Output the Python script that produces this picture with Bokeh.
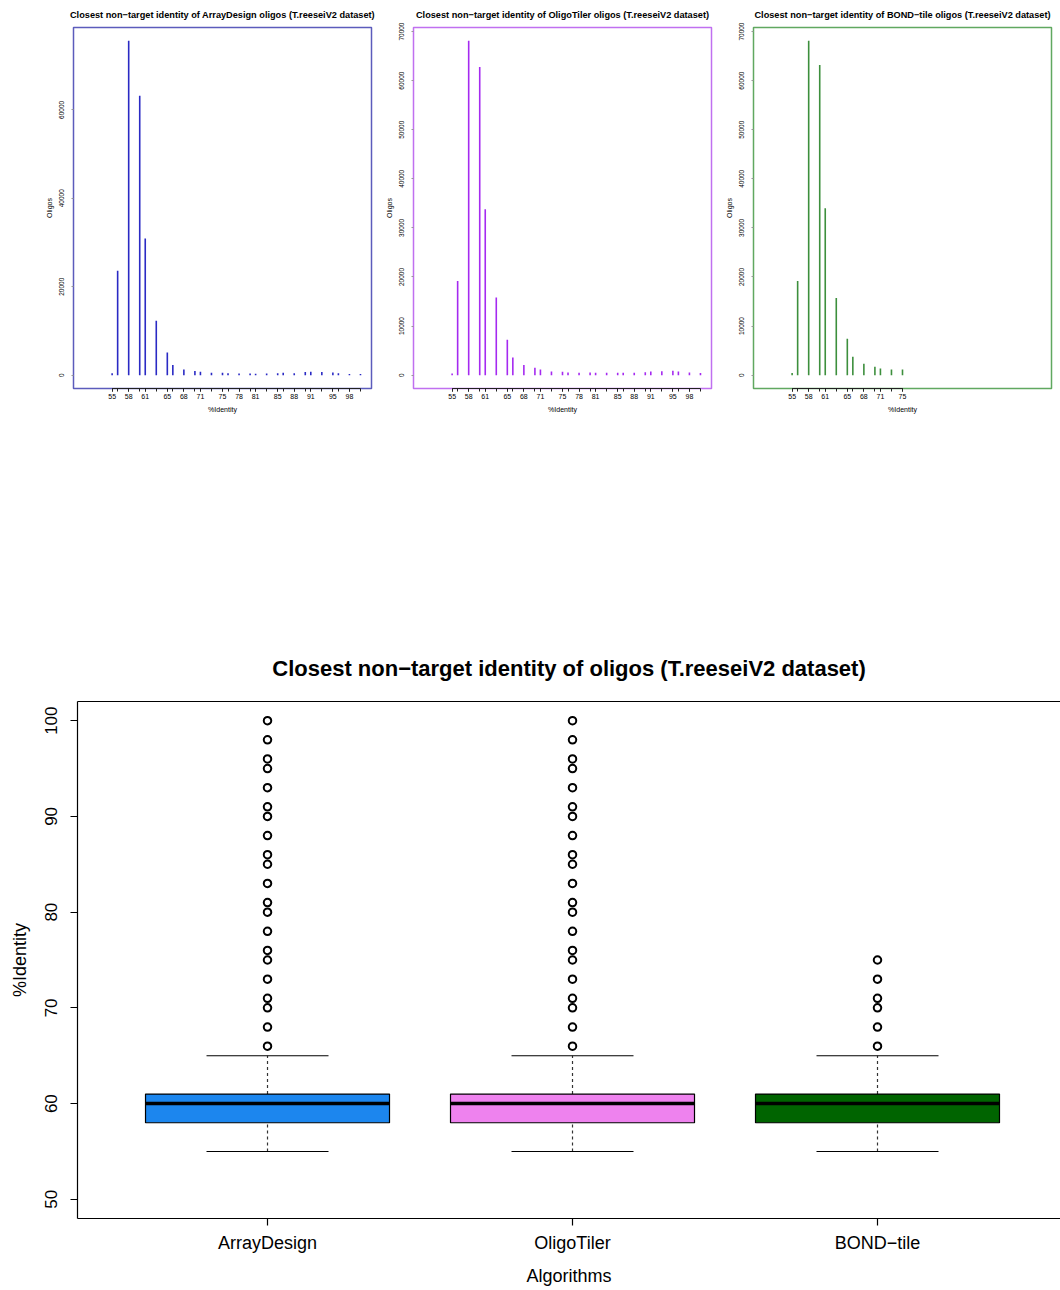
from bokeh.plotting import figure
from bokeh.layouts import column, row, Spacer
from bokeh.models import FixedTicker, LinearAxis, Range1d
from bokeh.embed import file_html
from bokeh.resources import INLINE

FONT = "Liberation Sans"

# ---------------- data ----------------
identity_full = [55, 56, 58, 60, 61, 63, 65, 66, 68, 70, 71, 73, 75, 76, 78, 80, 81,
                 83, 85, 86, 88, 90, 91, 93, 95, 96, 98, 100]
arraydesign_counts = [400, 23600, 75600, 63200, 30900, 12300, 5100, 2300, 1300, 950, 750,
                      530, 520, 450, 380, 380, 300, 380, 450, 520, 450, 680, 750, 680,
                      600, 450, 230, 230]
oligotiler_counts = [340, 19200, 68100, 62800, 33800, 15800, 7200, 3600, 2050, 1500, 1150,
                     750, 680, 540, 480, 540, 480, 480, 480, 480, 480, 610, 750, 810,
                     880, 750, 540, 410]
identity_bond = [55, 56, 58, 60, 61, 63, 65, 66, 68, 70, 71, 73, 75]
bondtile_counts = [410, 19200, 68100, 63200, 34000, 15700, 7400, 3730, 2310, 1700, 1360,
                   1150, 1150]
label_full = [55, 58, 61, 65, 68, 71, 75, 78, 81, 85, 88, 91, 95, 98]
label_bond = [55, 58, 61, 65, 68, 71, 75]

algorithms = ["ArrayDesign", "OligoTiler", "BOND\u2212tile"]
box_colors = ["#1C86EE", "#EE82EE", "#006400"]
q1 = [58, 58, 58]
median = [60, 60, 60]
q3 = [61, 61, 61]
whisker_low = [55, 55, 55]
whisker_high = [65, 65, 65]
outliers_arraydesign = [66, 68, 70, 71, 73, 75, 76, 78, 80, 81, 83, 85, 86, 88, 90, 91,
                        93, 95, 96, 98, 100]
outliers_oligotiler = [66, 68, 70, 71, 73, 75, 76, 78, 80, 81, 83, 85, 86, 88, 90, 91,
                       93, 95, 96, 98, 100]
outliers_bondtile = [66, 68, 70, 71, 73, 75]


def histogram_panel(name, xs, counts, labels, bar_color, frame_color, ymax, yticks):
    p = figure(frame_width=298, frame_height=361, output_backend="svg",
               toolbar_location=None, x_range=Range1d(48, 102),
               y_range=Range1d(-ymax * 0.04, ymax * 1.04),
               min_border_left=34, min_border_right=8, min_border_top=26,
               min_border_bottom=32)
    p.title.text = "Closest non\u2212target identity of %s oligos (T.reeseiV2 dataset)" % name
    p.title.text_font = FONT
    p.title.text_font_size = "9.2px"
    p.title.text_font_style = "bold"
    p.title.text_color = "black"
    p.title.align = "center"
    p.title.standoff = 15
    p.grid.visible = False
    p.outline_line_color = frame_color
    p.outline_line_width = 1.5
    p.background_fill_color = "white"
    p.border_fill_color = "white"
    p.segment(x0=xs, y0=[0] * len(xs), x1=xs, y1=counts, line_color=bar_color,
              line_width=1.6)
    xa = p.xaxis[0]
    xa.ticker = FixedTicker(ticks=labels, minor_ticks=xs)
    xa.bounds = (min(xs), max(xs))
    xa.axis_line_color = "#222222"
    xa.axis_line_width = 1.2
    xa.major_tick_in = 0
    xa.major_tick_out = 3
    xa.minor_tick_in = 0
    xa.minor_tick_out = 3
    xa.minor_tick_line_color = "#222222"
    xa.major_label_text_font = FONT
    xa.major_label_text_font_size = "7px"
    xa.major_label_text_color = "black"
    xa.major_label_standoff = 2
    xa.axis_label = "%Identity"
    xa.axis_label_text_font = FONT
    xa.axis_label_text_font_size = "7px"
    xa.axis_label_text_font_style = "normal"
    xa.axis_label_text_color = "black"
    xa.axis_label_standoff = 4
    ya = p.yaxis[0]
    ya.ticker = FixedTicker(ticks=yticks)
    ya.axis_line_color = None
    ya.major_tick_in = 0
    ya.major_tick_out = 2
    ya.major_tick_line_color = "#999999"
    ya.minor_tick_line_color = None
    ya.major_label_orientation = "vertical"
    ya.major_label_text_font = FONT
    ya.major_label_text_font_size = "6.5px"
    ya.major_label_text_color = "black"
    ya.major_label_standoff = 7
    ya.axis_label = "Oligos"
    ya.axis_label_text_font = FONT
    ya.axis_label_text_font_size = "7px"
    ya.axis_label_text_font_style = "normal"
    ya.axis_label_text_color = "black"
    ya.axis_label_standoff = 4
    return p


h1 = histogram_panel("ArrayDesign", identity_full, arraydesign_counts, label_full,
                     "#2a2ac4", "#5c5cbc", max(arraydesign_counts), [0, 20000, 40000, 60000])
h2 = histogram_panel("OligoTiler", identity_full, oligotiler_counts, label_full,
                     "#a52af0", "#c070f0", max(oligotiler_counts),
                     [0, 10000, 20000, 30000, 40000, 50000, 60000, 70000])
h3 = histogram_panel("BOND\u2212tile", identity_bond, bondtile_counts, label_bond,
                     "#3d8f3d", "#60a860", max(oligotiler_counts),
                     [0, 10000, 20000, 30000, 40000, 50000, 60000, 70000])

# ---------------- boxplot ----------------
xpos = [1, 2, 3]
b = figure(frame_width=983, frame_height=517, output_backend="svg",
           toolbar_location=None, x_range=Range1d(0.377, 3.6),
           y_range=Range1d(48, 102), min_border_left=72, min_border_right=0,
           min_border_top=75, min_border_bottom=64)
b.title.text = "Closest non\u2212target identity of oligos (T.reeseiV2 dataset)"
b.title.text_font = FONT
b.title.text_font_size = "22px"
b.title.text_font_style = "bold"
b.title.text_color = "black"
b.title.align = "center"
b.title.standoff = 41
b.title.offset = 4
b.grid.visible = False
b.outline_line_color = None

# whiskers (dashed)
b.segment(x0=xpos, y0=q3, x1=xpos, y1=whisker_high, line_color="#333333",
          line_width=1.2, line_dash="3 3")
b.segment(x0=xpos, y0=whisker_low, x1=xpos, y1=q1, line_color="#333333",
          line_width=1.2, line_dash="3 3")
# caps
b.segment(x0=[x - 0.2 for x in xpos], y0=whisker_high, x1=[x + 0.2 for x in xpos],
          y1=whisker_high, line_color="black", line_width=1.2)
b.segment(x0=[x - 0.2 for x in xpos], y0=whisker_low, x1=[x + 0.2 for x in xpos],
          y1=whisker_low, line_color="black", line_width=1.2)
# boxes
b.vbar(x=xpos, bottom=q1, top=q3, width=0.8, fill_color=box_colors,
       line_color="black", line_width=1.2)
# medians
b.segment(x0=[x - 0.4 for x in xpos], y0=median, x1=[x + 0.4 for x in xpos],
          y1=median, line_color="black", line_width=3.5)
# outliers
ox = [1] * len(outliers_arraydesign) + [2] * len(outliers_oligotiler) + [3] * len(outliers_bondtile)
oy = outliers_arraydesign + outliers_oligotiler + outliers_bondtile
b.scatter(x=ox, y=oy, marker="circle", size=7.5, fill_color=None,
          line_color="black", line_width=2)

xa = b.xaxis[0]
xa.ticker = FixedTicker(ticks=xpos)
xa.major_label_overrides = {1: algorithms[0], 2: algorithms[1], 3: algorithms[2]}
xa.axis_line_color = "black"
xa.axis_line_width = 1.2
xa.major_tick_in = 0
xa.major_tick_out = 7
xa.major_tick_line_width = 1.2
xa.minor_tick_line_color = None
xa.major_label_text_font = FONT
xa.major_label_text_font_size = "18px"
xa.major_label_text_color = "black"
xa.major_label_standoff = 7
xa.axis_label = "Algorithms"
xa.axis_label_text_font = FONT
xa.axis_label_text_font_size = "18px"
xa.axis_label_text_font_style = "normal"
xa.axis_label_text_color = "black"
xa.axis_label_standoff = 10

ya = b.yaxis[0]
ya.ticker = FixedTicker(ticks=[50, 60, 70, 80, 90, 100])
ya.axis_line_color = "black"
ya.axis_line_width = 1.2
ya.major_tick_in = 0
ya.major_tick_out = 7
ya.major_tick_line_width = 1.2
ya.minor_tick_line_color = None
ya.major_label_orientation = "vertical"
ya.major_label_text_font = FONT
ya.major_label_text_font_size = "17px"
ya.major_label_text_color = "black"
ya.major_label_standoff = 13
ya.axis_label = "%Identity"
ya.axis_label_text_font = FONT
ya.axis_label_text_font_size = "18px"
ya.axis_label_text_font_style = "normal"
ya.axis_label_text_color = "black"
ya.axis_label_standoff = 13

top_axis = LinearAxis(ticker=FixedTicker(ticks=[]), major_tick_line_color=None,
                      minor_tick_line_color=None, axis_line_color="black",
                      axis_line_width=1.2, major_label_standoff=0)
b.add_layout(top_axis, "above")

layout = column(row(Spacer(width=39), h1, h2, h3),
                Spacer(height=206),
                row(Spacer(width=5), b))

open("out.html", "w").write(file_html(layout, INLINE))
